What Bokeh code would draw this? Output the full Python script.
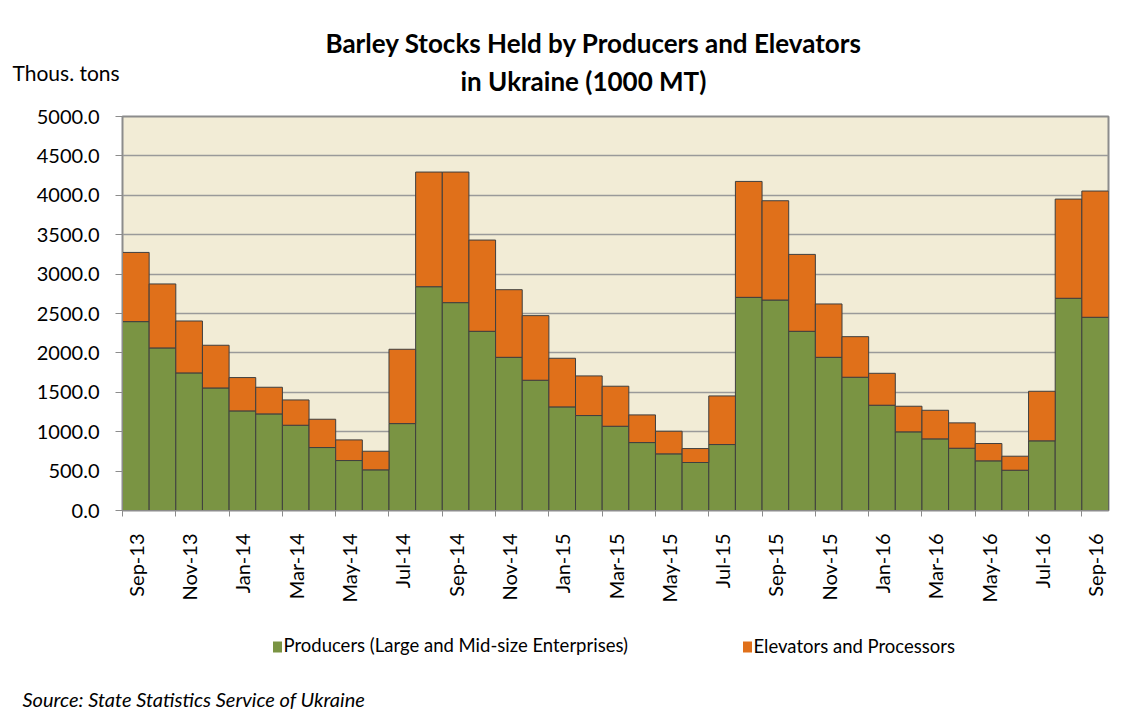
import math
from bokeh.plotting import figure
from bokeh.models import (ColumnDataSource, FixedTicker, NumeralTickFormatter, LinearAxis,
                          Range1d, Title)
from bokeh.embed import file_html
from bokeh.resources import INLINE

months = ["Sep-13", "Oct-13", "Nov-13", "Dec-13", "Jan-14", "Feb-14", "Mar-14", "Apr-14",
          "May-14", "Jun-14", "Jul-14", "Aug-14", "Sep-14", "Oct-14", "Nov-14", "Dec-14",
          "Jan-15", "Feb-15", "Mar-15", "Apr-15", "May-15", "Jun-15", "Jul-15", "Aug-15",
          "Sep-15", "Oct-15", "Nov-15", "Dec-15", "Jan-16", "Feb-16", "Mar-16", "Apr-16",
          "May-16", "Jun-16", "Jul-16", "Aug-16", "Sep-16"]
producers = [2397, 2063, 1746, 1555, 1264, 1226, 1082, 799, 634, 516, 1103, 2840, 2638,
             2274, 1944, 1653, 1315, 1205, 1069, 862, 719, 609, 837, 2705, 2671, 2274,
             1944, 1691, 1336, 998, 909, 790, 630, 511, 884, 2693, 2452]
elevators = [878, 812, 659, 542, 423, 338, 321, 359, 262, 236, 943, 1455, 1657, 1158, 858,
             820, 617, 503, 508, 351, 287, 177, 617, 1471, 1260, 976, 677, 515, 405, 325,
             363, 322, 220, 178, 629, 1259, 1602]
y_ticks = [0, 500, 1000, 1500, 2000, 2500, 3000, 3500, 4000, 4500, 5000]

title_1 = "Barley  Stocks  Held  by  Producers and  Elevators"
title_2 = "in Ukraine  (1000 MT)"
y_unit = "Thous. tons"
source_note = "Source:  State  Statistics  Service of  Ukraine"
series_names = ["Producers (Large and Mid-size Enterprises)", "Elevators and Processors"]

GREEN = "#7A9443"
ORANGE = "#E0701A"
FONT = "Lato"
N = len(months)

src = ColumnDataSource(dict(x=list(range(N)), producers=producers, elevators=elevators))

FRAME_LEFT, FRAME_W = 122, 986
p = figure(width=1132, height=712, output_backend="svg", toolbar_location=None,
           x_range=Range1d(-0.5, N - 0.5), y_range=Range1d(0, 5000),
           min_border_left=FRAME_LEFT, min_border_right=24, min_border_top=116,
           min_border_bottom=202)
p.title.visible = False
p.background_fill_color = "#F2ECD6"
p.border_fill_color = "white"
p.outline_line_color = "#8C8C8C"
p.outline_line_width = 2

rs = p.vbar_stack(["producers", "elevators"], x="x", width=1.0, source=src,
                  color=[GREEN, ORANGE], line_color="#3F3F3F", line_width=1)

p.xgrid.grid_line_color = None
p.ygrid.grid_line_color = "#9A9A9A"
p.ygrid.grid_line_width = 1.5
p.ygrid.ticker = FixedTicker(ticks=y_ticks)

p.yaxis.ticker = FixedTicker(ticks=y_ticks)
p.yaxis.formatter = NumeralTickFormatter(format="0.0")
p.yaxis.axis_line_color = "#8C8C8C"
p.yaxis.major_tick_line_color = "#8C8C8C"
p.yaxis.major_tick_out = 7
p.yaxis.major_tick_in = 0
p.yaxis.minor_tick_line_color = None
p.yaxis.major_label_standoff = 16
p.yaxis.major_label_text_font = FONT
p.yaxis.major_label_text_font_size = "20px"
p.yaxis.major_label_text_color = "black"

even = list(range(0, N, 2))
p.xaxis.ticker = FixedTicker(ticks=even, minor_ticks=[i - 0.5 for i in even])
p.xaxis.major_label_overrides = {i: months[i] for i in even}
p.xaxis.major_label_orientation = math.pi / 2
p.xaxis.axis_line_color = "#8C8C8C"
p.xaxis.major_tick_line_color = None
p.xaxis.major_tick_out = 0
p.xaxis.major_tick_in = 0
p.xaxis.minor_tick_line_color = "#8C8C8C"
p.xaxis.minor_tick_out = 6
p.xaxis.minor_tick_in = 0
p.xaxis.major_label_standoff = 17
p.xaxis.major_label_text_font = FONT
p.xaxis.major_label_text_font_size = "20px"
p.xaxis.major_label_text_color = "black"


def blank_axis(size, tick=0.0, color=None, t_in=0, width=1):
    """An axis without line or labels, used as a spacer or to draw a legend swatch."""
    return LinearAxis(ticker=FixedTicker(ticks=[tick]), major_tick_out=size,
                      major_tick_in=t_in, major_tick_line_color=color,
                      major_tick_line_width=width, axis_line_color=None,
                      minor_tick_line_color=None, major_label_standoff=0,
                      major_label_text_font_size="0px", major_label_text_color=None)


def title(text, offset, standoff, size, style="normal", valign="bottom"):
    return Title(text=text, align="left", offset=offset, standoff=standoff,
                 vertical_align=valign, text_font=FONT, text_font_size=size,
                 text_font_style=style, text_color="black")


# ---- header (inner -> outer) ----
p.add_layout(blank_axis(36), "above")
p.add_layout(title(title_2, 338, -32, "26px", "bold"), "above")
p.add_layout(title(y_unit, -110, -13, "21px"), "above")
p.add_layout(title(title_1, 203, 11, "26px", "bold"), "above")

# ---- legend and source (inner -> outer) ----
def data_x(page_x):
    return (page_x - FRAME_LEFT) / (FRAME_W / N) - 0.5

p.add_layout(blank_axis(40), "below")
p.add_layout(title(series_names[0], 161, -23, "18.5px", valign="top"), "below")
p.add_layout(title(series_names[1], 631, -23, "18.5px", valign="top"), "below")
p.add_layout(blank_axis(5, data_x(276.5), GREEN, t_in=6, width=9), "below")
p.add_layout(blank_axis(0, data_x(746.5), ORANGE, t_in=11, width=9), "below")
p.add_layout(blank_axis(47), "below")
p.add_layout(title(source_note, -100, -25, "20px", "italic", valign="top"), "below")

open("out.html", "w").write(file_html(p, INLINE))
